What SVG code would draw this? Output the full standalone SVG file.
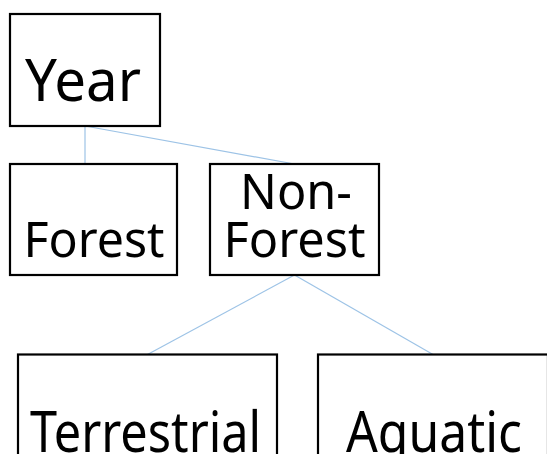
<svg xmlns="http://www.w3.org/2000/svg" width="547" height="454" viewBox="0 0 547 454">
<style>
.box{fill:#fff;stroke:#000;stroke-width:2.2}
.t{font-family:"Noto Sans","Open Sans",sans-serif;fill:#000;text-anchor:middle;font-variant-ligatures:none}
.c{stroke:#9DC3E6;stroke-width:1.2;fill:none}
</style>
<rect width="547" height="454" fill="#fff"/>
<g id="connectors">
<line class="c" x1="85" y1="126" x2="85" y2="164"/>
<line class="c" x1="85" y1="126" x2="294.5" y2="164"/>
<line class="c" x1="294.5" y1="275" x2="147.5" y2="354.5"/>
<line class="c" x1="294.5" y1="275" x2="433" y2="354.5"/>
</g>
<g id="year">
<rect class="box" x="10" y="14" width="150" height="112"/>
<text class="t" x="83" y="101" font-size="59" textLength="116" lengthAdjust="spacingAndGlyphs">Year</text>
</g>
<g id="forest">
<rect class="box" x="10" y="164" width="167" height="111"/>
<text class="t" x="94" y="256.7" font-size="49" textLength="141" lengthAdjust="spacingAndGlyphs">Forest</text>
</g>
<g id="nonforest">
<rect class="box" x="210" y="164" width="169" height="111"/>
<text class="t" x="296" y="209.3" font-size="49" textLength="112" lengthAdjust="spacingAndGlyphs">Non-</text>
<text class="t" x="294.5" y="257.3" font-size="50" textLength="142" lengthAdjust="spacingAndGlyphs">Forest</text>
</g>
<g id="terrestrial">
<rect class="box" x="18" y="354.5" width="259" height="130"/>
<text class="t" x="145.6" y="452" font-size="57" textLength="231" lengthAdjust="spacingAndGlyphs">Terrestrial</text>
</g>
<g id="aquatic">
<rect class="box" x="318" y="354.5" width="230" height="130"/>
<text class="t" x="434" y="452" font-size="57" textLength="176" lengthAdjust="spacingAndGlyphs">Aquatic</text>
</g>
</svg>
